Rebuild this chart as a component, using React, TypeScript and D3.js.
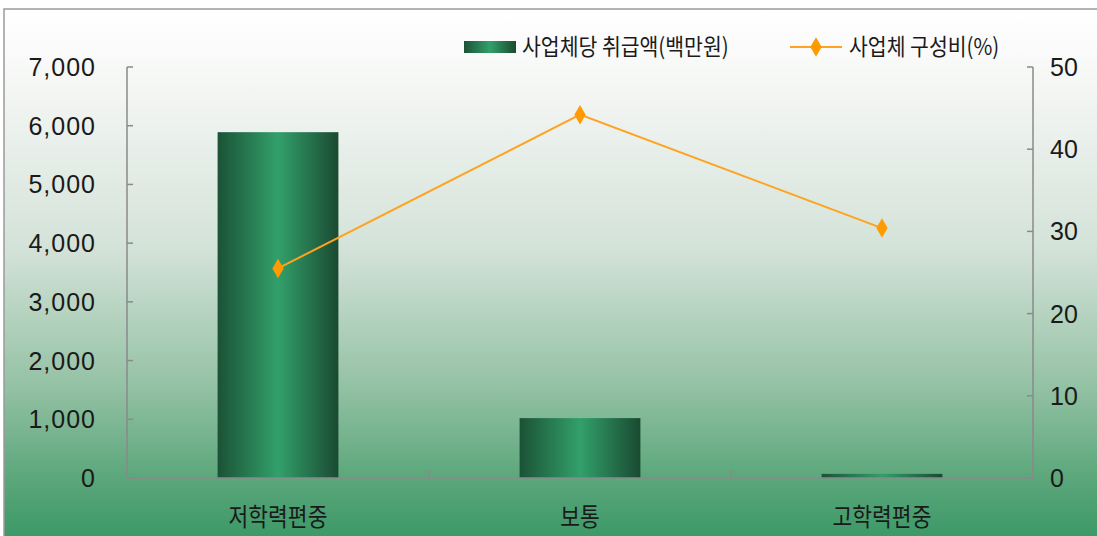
import React from "react";
import * as d3 from "d3";

const categories = ["저학력편중", "보통", "고학력편중"];
const amountValues = [5890, 1020, 70];
const shareValues = [25.5, 44.2, 30.4];
const leftTicks = [0, 1000, 2000, 3000, 4000, 5000, 6000, 7000];
const rightTicks = [0, 10, 20, 30, 40, 50];
const legendLabels = ["사업체당 취급액(백만원)", "사업체 구성비(%)"];

const W = 1097;
const H = 536;
const plot = { left: 127, right: 1033, top: 67, bottom: 478 };
const FONT = "'Noto Sans CJK KR', 'Noto Sans', sans-serif";
const NUMFONT = "'Liberation Sans', Arial, sans-serif";

export default function App() {
  const xOuter = d3.scaleBand<string>().domain(categories).range([plot.left, plot.right]);
  const yL = d3.scaleLinear().domain([0, 7000]).range([plot.bottom, plot.top]);
  const yR = d3.scaleLinear().domain([0, 50]).range([plot.bottom, plot.top]);
  const fmt = d3.format(",");
  const cxOf = (c: string) => (xOuter(c) as number) + xOuter.bandwidth() / 2;
  const line = d3
    .line<number>()
    .x((_, i) => cxOf(categories[i]))
    .y((d) => yR(d));
  const diamond = d3.symbol(d3.symbolDiamond, 110)() as string;

  return (
    <svg width={W} height={H} style={{ position: "absolute", left: 0, top: 0, background: "#fff" }}>
      <defs>
        <linearGradient id="bg" x1="0" y1="0" x2="0" y2="1">
          <stop offset="0%" stopColor="#ffffff" />
          <stop offset="15%" stopColor="#f4f6f4" />
          <stop offset="45%" stopColor="#d3e2d8" />
          <stop offset="70%" stopColor="#95c2a5" />
          <stop offset="88%" stopColor="#5aa67a" />
          <stop offset="100%" stopColor="#389764" />
        </linearGradient>
        <linearGradient id="bar" x1="0" y1="0" x2="1" y2="0">
          <stop offset="0%" stopColor="#1b5236" />
          <stop offset="50%" stopColor="#32a06a" />
          <stop offset="100%" stopColor="#1a4a31" />
        </linearGradient>
      </defs>
      <rect x={4} y={9} width={W} height={H} fill="url(#bg)" stroke="#9a9a9a" strokeWidth={1.5} />

      {categories.map((c, i) => (
        <rect
          key={c}
          x={(xOuter(c) as number) + xOuter.bandwidth() * 0.3}
          width={xOuter.bandwidth() * 0.4}
          y={yL(amountValues[i])}
          height={plot.bottom - yL(amountValues[i])}
          fill="url(#bar)"
        />
      ))}

      <g stroke="#8a8a8a" strokeWidth={1.5} fill="none">
        <line x1={plot.left} x2={plot.left} y1={plot.top} y2={plot.bottom} />
        <line x1={plot.right} x2={plot.right} y1={plot.top} y2={plot.bottom} />
        <line x1={plot.left} x2={plot.right} y1={plot.bottom} y2={plot.bottom} />
        {leftTicks.map((t) => (
          <line key={"l" + t} x1={plot.left} x2={plot.left + 6} y1={yL(t)} y2={yL(t)} />
        ))}
        {rightTicks.map((t) => (
          <line key={"r" + t} x1={plot.right - 6} x2={plot.right} y1={yR(t)} y2={yR(t)} />
        ))}
        {categories.slice(1).map((c) => (
          <line key={"c" + c} x1={xOuter(c) as number} x2={xOuter(c) as number} y1={plot.bottom} y2={plot.bottom - 8} />
        ))}
      </g>

      <g fontFamily={NUMFONT} fontSize={25} fill="#1a1a1a">
        {leftTicks.map((t) => (
          <text key={"lt" + t} x={96} y={yL(t)} dy="0.36em" textAnchor="end" letterSpacing={1}>
            {fmt(t)}
          </text>
        ))}
        {rightTicks.map((t) => (
          <text key={"rt" + t} x={1050} y={yR(t)} dy="0.36em" textAnchor="start">
            {t}
          </text>
        ))}
      </g>
      <g fontFamily={FONT} fontSize={25} fill="#1a1a1a">
        {categories.map((c) => {
          const cx = cxOf(c);
          return (
            <text
              key={"ct" + c}
              x={cx}
              y={517}
              dy="0.36em"
              textAnchor="middle"
              transform={`translate(${cx},0) scale(0.86,1) translate(${-cx},0)`}
            >
              {c}
            </text>
          );
        })}
      </g>

      <path d={line(shareValues) as string} fill="none" stroke="#ffa21f" strokeWidth={2} />
      {shareValues.map((v, i) => (
        <path key={"m" + i} d={diamond} transform={`translate(${cxOf(categories[i])},${yR(v)})`} fill="#ff9a00" />
      ))}

      <rect x={464} y={41} width={52} height={12} fill="url(#bar)" />
      <text x={522} y={47} dy="0.36em" fontFamily={FONT} fontSize={23} fill="#1a1a1a"
        transform="translate(522,0) scale(0.89,1) translate(-522,0)">
        {legendLabels[0]}
      </text>
      <line x1={790} x2={842} y1={47} y2={47} stroke="#ffa21f" strokeWidth={2} />
      <path d={diamond} transform="translate(816,47)" fill="#ff9a00" />
      <text x={849} y={47} dy="0.36em" fontFamily={FONT} fontSize={23} fill="#1a1a1a"
        transform="translate(849,0) scale(0.89,1) translate(-849,0)">
        {legendLabels[1]}
      </text>
    </svg>
  );
}
